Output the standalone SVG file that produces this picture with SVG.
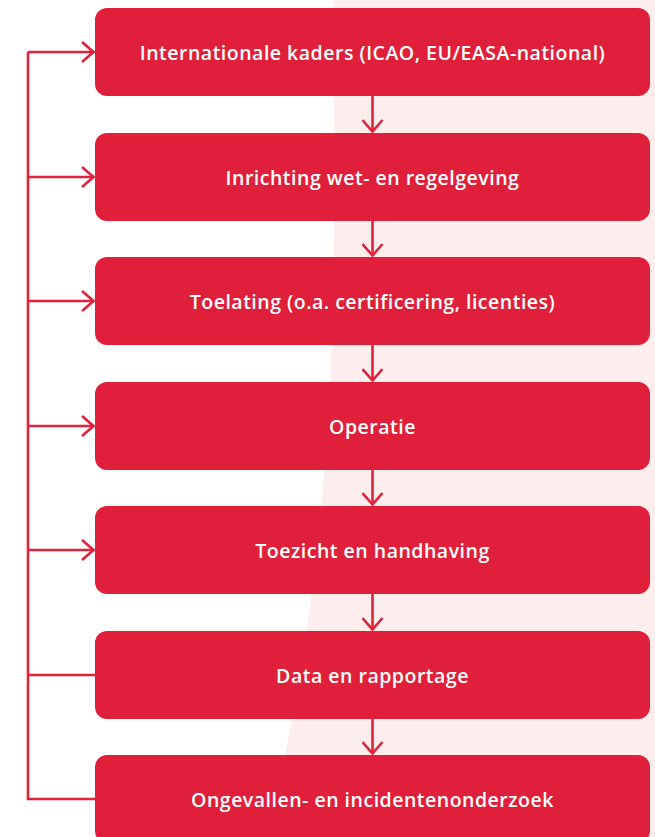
<svg xmlns="http://www.w3.org/2000/svg" width="655" height="837" viewBox="0 0 655 837">
<defs>
<style>
.box{fill:#E01F3A;}
.lbl{fill:#FFFFFF;font-family:"Open Sans","Noto Sans",sans-serif;font-weight:600;font-size:19.5px;letter-spacing:0.5px;text-anchor:middle;dominant-baseline:central;}
.ln{fill:none;stroke:#E0223D;stroke-width:2.6;stroke-linejoin:miter;}
</style>
<marker id="chev" viewBox="0 0 14 22" refX="13" refY="11" markerWidth="14" markerHeight="22" markerUnits="userSpaceOnUse" orient="auto">
<path d="M1,1 L12.5,11 L1,21" fill="none" stroke="#E0223D" stroke-width="2.6"/>
</marker>
</defs>
<rect width="655" height="837" fill="#FFFFFF"/>
<path d="M334,0 L334,220 C334,430 315,650 266,837 L655,837 L655,0 Z" fill="#FDEDED"/>
<g id="connectors">
<path class="ln" d="M372.5,96 V132" marker-end="url(#chev)"/>
<path class="ln" d="M372.5,220 V256" marker-end="url(#chev)"/>
<path class="ln" d="M372.5,345 V381" marker-end="url(#chev)"/>
<path class="ln" d="M372.5,469 V505" marker-end="url(#chev)"/>
<path class="ln" d="M372.5,594 V630" marker-end="url(#chev)"/>
<path class="ln" d="M372.5,718 V754" marker-end="url(#chev)"/>
<path class="ln" d="M95,799 H28 V52"/>
<path class="ln" d="M95,675 H28"/>
<path class="ln" d="M28,52 H94" marker-end="url(#chev)"/>
<path class="ln" d="M28,177 H94" marker-end="url(#chev)"/>
<path class="ln" d="M28,301 H94" marker-end="url(#chev)"/>
<path class="ln" d="M28,426 H94" marker-end="url(#chev)"/>
<path class="ln" d="M28,550 H94" marker-end="url(#chev)"/>
</g>
<g id="n1"><rect class="box" x="95" y="8" width="555" height="88" rx="12"/><text class="lbl" x="372.5" y="52">Internationale kaders (ICAO, EU/EASA-national)</text></g>
<g id="n2"><rect class="box" x="95" y="133" width="555" height="88" rx="12"/><text class="lbl" x="372.5" y="177">Inrichting wet- en regelgeving</text></g>
<g id="n3"><rect class="box" x="95" y="257" width="555" height="88" rx="12"/><text class="lbl" x="372.5" y="301">Toelating (o.a. certificering, licenties)</text></g>
<g id="n4"><rect class="box" x="95" y="382" width="555" height="88" rx="12"/><text class="lbl" x="372.5" y="426">Operatie</text></g>
<g id="n5"><rect class="box" x="95" y="506" width="555" height="88" rx="12"/><text class="lbl" x="372.5" y="550">Toezicht en handhaving</text></g>
<g id="n6"><rect class="box" x="95" y="631" width="555" height="88" rx="12"/><text class="lbl" x="372.5" y="675">Data en rapportage</text></g>
<g id="n7"><rect class="box" x="95" y="755" width="555" height="88" rx="12"/><text class="lbl" x="372.5" y="799">Ongevallen- en incidentenonderzoek</text></g>
</svg>
